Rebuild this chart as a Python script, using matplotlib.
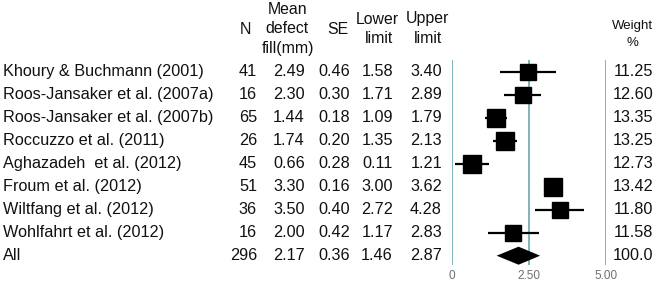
import matplotlib
matplotlib.use("Agg")
import matplotlib.pyplot as plt
import matplotlib.transforms as mtransforms
import numpy as np

plt.rcParams['font.family'] = ['Liberation Sans', 'DejaVu Sans']

studies = ["Khoury & Buchmann (2001)", "Roos-Jansaker et al. (2007a)",
           "Roos-Jansaker et al. (2007b)", "Roccuzzo et al. (2011)",
           "Aghazadeh  et al. (2012)", "Froum et al. (2012)",
           "Wiltfang et al. (2012)", "Wohlfahrt et al. (2012)", "All"]
n_vals = [41, 16, 65, 26, 45, 51, 36, 16, 296]
means = [2.49, 2.30, 1.44, 1.74, 0.66, 3.30, 3.50, 2.00, 2.17]
se_vals = [0.46, 0.30, 0.18, 0.20, 0.28, 0.16, 0.40, 0.42, 0.36]
lower = [1.58, 1.71, 1.09, 1.35, 0.11, 3.00, 2.72, 1.17, 1.46]
upper = [3.40, 2.89, 1.79, 2.13, 1.21, 3.62, 4.28, 2.83, 2.87]
weights = ["11.25", "12.60", "13.35", "13.25", "12.73", "13.42", "11.80", "11.58", "100.0"]
xticks = [0, 2.5, 5.0]
xtick_labels = ["0", "2.50", "5.00"]

W, H = 661, 281
fig = plt.figure(figsize=(W / 100, H / 100), dpi=100)

# forest axes
x0, x1 = 451.7, 605.7
ytop, ybot = 60, 265
ax = fig.add_axes([x0 / W, 1 - ybot / H, (x1 - x0) / W, (ybot - ytop) / H])
row0, step = 71.7, 23.0
ax.set_xlim(0, 5)
ax.set_ylim((ybot - row0) / step, (ytop - row0) / step)
for s in ax.spines.values():
    s.set_visible(False)
ax.set_yticks([])
ax.set_xticks(xticks)
ax.set_xticklabels(xtick_labels)
ax.tick_params(axis='x', length=0, pad=3.5, labelsize=8.5, labelcolor='#6f6f6f')

line_col = '#5e9fa6'
for xv in xticks:
    ax.axvline(xv, color=line_col, lw=1.1, zorder=1)

n_st = len(studies) - 1
wnum = np.array([float(w) for w in weights[:n_st]])
for i in range(n_st):
    ax.hlines(i, lower[i], upper[i], color='black', lw=1.6, zorder=2)
    side_px = 17.5 * np.sqrt(wnum[i] / wnum.max())
    ax.plot(means[i], i, marker='s', color='black', markersize=side_px * 72 / 100,
            linestyle='none', zorder=3)

# diamond for overall
i = n_st
h = 9.0 / step
ax.fill([lower[i], means[i], upper[i], means[i]], [i, i - h, i, i + h],
        color='black', zorder=3, lw=0)

# text columns
tr = mtransforms.blended_transform_factory(fig.transFigure, ax.transData)
fs = 11.7
col_right = {'n': 257, 'mean': 305, 'se': 350, 'lo': 393, 'up': 442, 'w': 653}
for i in range(len(studies)):
    kw = dict(transform=tr, fontsize=fs, va='center', color='#111111', clip_on=False)
    fig.text(3 / W, i, studies[i], ha='left', **kw)
    fig.text(col_right['n'] / W, i, f"{n_vals[i]}", ha='right', **kw)
    fig.text(col_right['mean'] / W, i, f"{means[i]:.2f}", ha='right', **kw)
    fig.text(col_right['se'] / W, i, f"{se_vals[i]:.2f}", ha='right', **kw)
    fig.text(col_right['lo'] / W, i, f"{lower[i]:.2f}", ha='right', **kw)
    fig.text(col_right['up'] / W, i, f"{upper[i]:.2f}", ha='right', **kw)
    fig.text(col_right['w'] / W, i, weights[i], ha='right', **kw)

# headers
hdr = [("Mean", 288, 9), ("defect", 287, 28.5), ("fill(mm)", 288, 48),
       ("N", 245, 29), ("SE", 338, 29),
       ("Lower", 377, 19), ("limit", 379, 38.5),
       ("Upper", 427, 19), ("limit", 428, 38.5),
       ("Weight", 632, 26), ("%", 632, 43)]
for txt, xp, yp in hdr:
    fs_h = 11.4 if txt not in ("Weight", "%") else 9.5
    fig.text(xp / W, 1 - yp / H, txt, ha='center', va='center', fontsize=fs_h,
             color='#111111')

fig.savefig("out.png", dpi=100, facecolor='white')
